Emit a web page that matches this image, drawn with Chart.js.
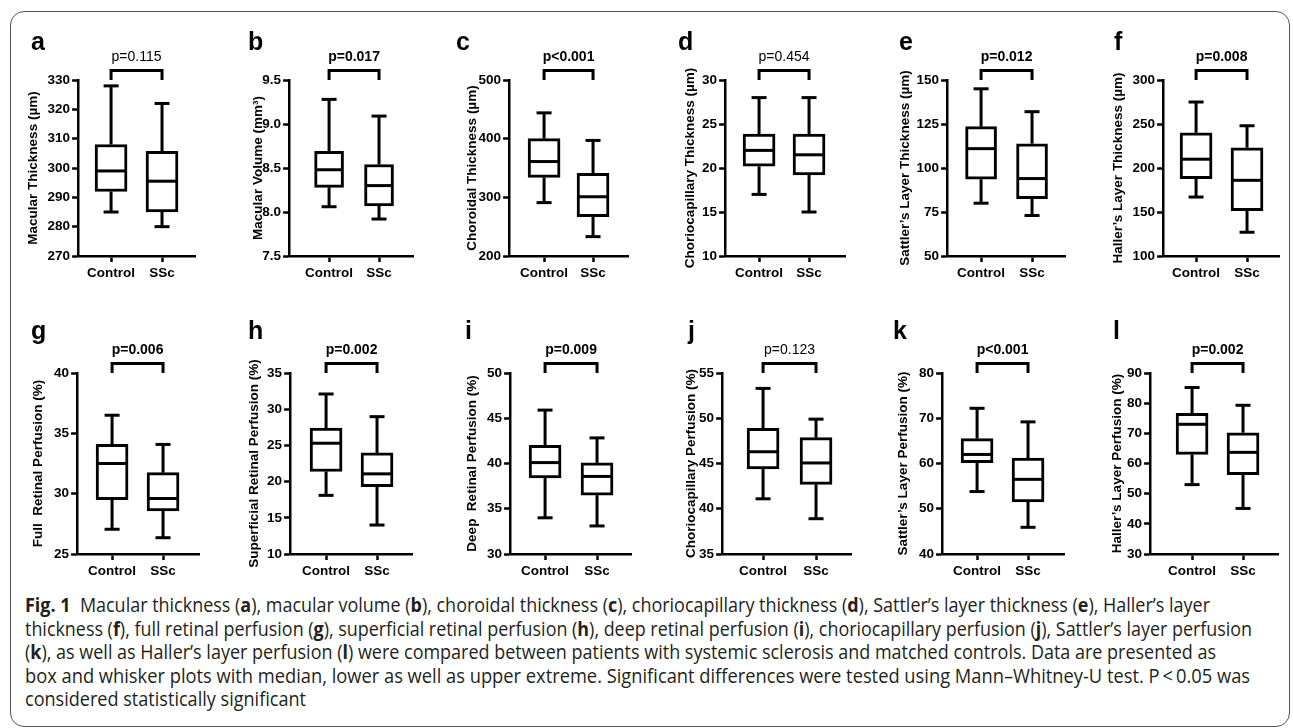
<!DOCTYPE html>
<html>
<head>
<meta charset="utf-8">
<script src="https://cdn.jsdelivr.net/npm/chart.js@4.4.0/dist/chart.umd.min.js"></script>
<style>
  html, body { margin: 0; padding: 0; background: #fff; }
  #page { position: relative; width: 1293px; height: 728px; overflow: hidden; }
  #frame { position: absolute; left: 10px; top: 11px; width: 1278px; height: 714px;
           border: 1.5px solid #555; border-radius: 14px; }
  canvas { position: absolute; }
  .letter { position: absolute; font: bold 25px "Liberation Sans", Arial, sans-serif;
            line-height: 25px; color: #000; }
  .cap { position: absolute; left: 25px; white-space: nowrap; color: #231f20;
         font-family: "Liberation Sans Narrow", "Open Sans", "DejaVu Sans Condensed", sans-serif;
         font-size: 20px; line-height: 23.5px; transform-origin: 0 50%; }
</style>
</head>
<body>
<div id="page">
  <div id="frame"></div>
  <div class="cap" id="cap0"><b>Fig. 1</b>&nbsp;&nbsp;Macular thickness (<b>a</b>), macular volume (<b>b</b>), choroidal thickness (<b>c</b>), choriocapillary thickness (<b>d</b>), Sattler’s layer thickness (<b>e</b>), Haller’s layer</div>
  <div class="cap" id="cap1">thickness (<b>f</b>), full retinal perfusion (<b>g</b>), superficial retinal perfusion (<b>h</b>), deep retinal perfusion (<b>i</b>), choriocapillary perfusion (<b>j</b>), Sattler’s layer perfusion</div>
  <div class="cap" id="cap2">(<b>k</b>), as well as Haller’s layer perfusion (<b>l</b>) were compared between patients with systemic sclerosis and matched controls. Data are presented as</div>
  <div class="cap" id="cap3">box and whisker plots with median, lower as well as upper extreme. Significant differences were tested using Mann–Whitney-U test. P&thinsp;&lt;&thinsp;0.05 was</div>
  <div class="cap" id="cap4">considered statistically significant</div>
</div>
<script>
// ---- data ----
const categories = ['Control', 'SSc'];
const panelLetters = ['a', 'b', 'c', 'd', 'e', 'f', 'g', 'h', 'i', 'j', 'k', 'l'];
const yTitles = [
  'Macular Thickness (µm)', 'Macular Volume (mm³)', 'Choroidal Thickness (µm)',
  'Choriocapillary Thickness (µm)', 'Sattler’s Layer Thickness (µm)', 'Haller’s Layer Thickness (µm)',
  'Full  Retinal Perfusion (%)', 'Superficial Retinal Perfusion (%)', 'Deep  Retinal Perfusion (%)',
  'Choriocapillary Perfusion (%)', 'Sattler’s Layer Perfusion (%)', 'Haller’s Layer Perfusion (%)'
];
const pValues = ['p=0.115', 'p=0.017', 'p<0.001', 'p=0.454', 'p=0.012', 'p=0.008',
                 'p=0.006', 'p=0.002', 'p=0.009', 'p=0.123', 'p<0.001', 'p=0.002'];
const significant = [false, true, true, false, true, true, true, true, true, false, true, true];

// y tick values per panel
const yTicks = [
  [270, 280, 290, 300, 310, 320, 330],
  [7.5, 8.0, 8.5, 9.0, 9.5],
  [200, 300, 400, 500],
  [10, 15, 20, 25, 30],
  [50, 75, 100, 125, 150],
  [100, 150, 200, 250, 300],
  [25, 30, 35, 40],
  [10, 15, 20, 25, 30, 35],
  [30, 35, 40, 45, 50],
  [35, 40, 45, 50, 55],
  [40, 50, 60, 70, 80],
  [30, 40, 50, 60, 70, 80, 90]
];

// [min, q1, median, q3, max]
const controlStats = [
  [285, 292, 299, 308, 328],
  [8.06, 8.28, 8.48, 8.69, 9.28],
  [291, 334, 361, 400, 444],
  [17, 20.2, 22, 23.85, 28],
  [80, 93.6, 111, 123.5, 145],
  [167, 188, 210, 240, 275],
  [27.05, 29.5, 32.5, 34.08, 36.5],
  [18.1, 21.4, 25.3, 27.4, 32.1],
  [34, 38.4, 40.1, 42, 45.9],
  [41.1, 44.4, 46.3, 48.9, 53.3],
  [53.8, 60.2, 62, 65.5, 72.2],
  [53, 63, 73, 76.6, 85.2]
];
const sscStats = [
  [280, 285, 295.5, 305.7, 322],
  [7.92, 8.07, 8.3, 8.54, 9.09],
  [233, 267, 301, 341, 397],
  [15, 19.2, 21.5, 23.85, 28],
  [73, 82.6, 94, 113.8, 132],
  [127, 151.6, 186, 223, 248],
  [26.35, 28.57, 29.6, 31.74, 34.08],
  [14, 19.3, 21.07, 23.96, 28.97],
  [33.1, 36.5, 38.57, 40.07, 42.83],
  [38.9, 42.7, 45.06, 47.86, 49.9],
  [45.9, 51.5, 56.5, 61.2, 69.2],
  [45.1, 56.3, 63.7, 70.2, 79.3]
];

// ---- layout (pixels) ----
// [axisX, controlX, sscX, axisEnd, titleOffset, letterX, boxWidth]
const panelLayout = [
  [78, 111, 162, 195, 45, 31, 32],
  [289, 329, 379, 413, 31, 248, 29],
  [509, 544, 593, 628, 37, 456, 32],
  [725, 759, 809, 845, 35, 678, 32],
  [947, 981, 1032, 1065, 42, 899, 31],
  [1163, 1196, 1247, 1279, 45, 1114, 32],
  [77, 112, 163, 199, 39, 31, 32],
  [290, 326, 377, 412, 36, 248, 32],
  [510, 545, 597, 631, 38, 465, 32],
  [722, 763, 816, 851, 31, 688, 32],
  [942, 977, 1028, 1064, 39, 893, 32],
  [1150, 1192, 1243, 1278, 33, 1113, 32]
];
const rowTop = [80, 373];
const rowBottom = [256, 554];
const letterTop = [29, 318];
const capCenters = [605, 628.5, 652, 675.5, 699];
const capEnds = [1210, 1252, 1216, 1250, 306];

Chart.defaults.font.family = '"Liberation Sans", Arial, sans-serif';
Chart.defaults.color = '#000';

const PAD_TOP = 40, X_H = 32, PAD_RIGHT = 4;
const axisFont = { family: '"Liberation Sans", Arial, sans-serif', weight: 'bold', size: 13.5 };

// whiskers, medians, bracket and p value, all placed through the chart scales
const boxWhiskers = {
  id: 'boxWhiskers',
  afterDatasetsDraw(chart, args, opts) {
    const { ctx, chartArea, scales: { x, y } } = chart;
    const meta = chart.getDatasetMeta(0);
    ctx.save();
    ctx.strokeStyle = '#000';
    ctx.lineWidth = 3;
    ctx.lineCap = 'butt';
    const seg = (x1, y1, x2, y2) => {
      ctx.beginPath(); ctx.moveTo(x1, y1); ctx.lineTo(x2, y2); ctx.stroke();
    };
    opts.stats.forEach((s, i) => {
      const cx = x.getPixelForValue(i);
      const half = meta.data[i].width / 2;
      const cap = 7.5;
      const [pMin, pQ1, pMed, pQ3, pMax] = s.map(v => y.getPixelForValue(v));
      seg(cx, pQ1, cx, pMin);
      seg(cx - cap, pMin, cx + cap, pMin);
      seg(cx, pQ3, cx, pMax);
      seg(cx - cap, pMax, cx + cap, pMax);
      seg(cx - half + 1, pMed, cx + half - 1, pMed);
    });
    // significance bracket
    const x0 = x.getPixelForValue(0), x1 = x.getPixelForValue(1);
    const top = chartArea.top - 9.5;
    ctx.beginPath();
    ctx.moveTo(x0, chartArea.top);
    ctx.lineTo(x0, top);
    ctx.lineTo(x1, top);
    ctx.lineTo(x1, chartArea.top);
    ctx.stroke();
    ctx.fillStyle = '#000';
    ctx.font = (opts.bold ? 'bold ' : '') + '14px "Liberation Sans", Arial, sans-serif';
    ctx.textAlign = 'center';
    ctx.textBaseline = 'middle';
    ctx.fillText(opts.pText, (x0 + x1) / 2, chartArea.top - 23);
    ctx.restore();
  }
};

const page = document.getElementById('page');

panelLetters.forEach((letter, k) => {
  const row = k < 6 ? 0 : 1;
  const [axisX, ctrlX, sscX, axisEnd, titleOffset, letterX, boxW] = panelLayout[k];
  const unit = sscX - ctrlX;
  const xMin = -(ctrlX - axisX) / unit;
  const xMax = 1 + (axisEnd - sscX) / unit;
  const yW = titleOffset + 8.1;
  const plotH = rowBottom[row] - rowTop[row];

  const canvas = document.createElement('canvas');
  canvas.width = Math.round(yW + (axisEnd - axisX) + PAD_RIGHT);
  canvas.height = PAD_TOP + plotH + X_H;
  canvas.style.left = (axisX - yW) + 'px';
  canvas.style.top = (rowTop[row] - PAD_TOP) + 'px';
  page.appendChild(canvas);

  const lab = document.createElement('div');
  lab.className = 'letter';
  lab.textContent = letter;
  lab.style.left = letterX + 'px';
  lab.style.top = letterTop[row] + 'px';
  page.appendChild(lab);

  const ticks = yTicks[k];
  const decimals = ticks.some(v => !Number.isInteger(v)) ? 1 : 0;

  new Chart(canvas, {
    type: 'bar',
    data: {
      datasets: [{
        data: [
          { x: 0, y: [controlStats[k][1], controlStats[k][3]] },
          { x: 1, y: [sscStats[k][1], sscStats[k][3]] }
        ],
        backgroundColor: '#fff',
        borderColor: '#000',
        borderWidth: 3,
        borderSkipped: false,
        barThickness: boxW
      }]
    },
    options: {
      responsive: false,
      animation: false,
      devicePixelRatio: 1,
      layout: { padding: { top: PAD_TOP, right: PAD_RIGHT, bottom: 0, left: 0 } },
      plugins: {
        legend: { display: false },
        tooltip: { enabled: false },
        boxWhiskers: {
          stats: [controlStats[k], sscStats[k]],
          pText: pValues[k],
          bold: significant[k]
        }
      },
      scales: {
        x: {
          type: 'linear',
          offset: false,
          min: xMin,
          max: xMax,
          afterBuildTicks: s => { s.ticks = [{ value: 0 }, { value: 1 }]; },
          afterFit: s => { s.height = X_H; },
          ticks: {
            callback: v => categories[v],
            font: axisFont,
            color: '#000',
            padding: 3,
            maxRotation: 0,
            autoSkip: false
          },
          grid: { offset: false, drawOnChartArea: false, drawTicks: true, tickLength: 6, tickWidth: 2.5, tickColor: '#000' },
          border: { display: true, color: '#000', width: 2.5 }
        },
        y: {
          min: ticks[0],
          max: ticks[ticks.length - 1],
          afterBuildTicks: s => { s.ticks = ticks.map(v => ({ value: v })); },
          afterFit: s => { s.width = yW; },
          ticks: {
            callback: v => v.toFixed(decimals),
            font: axisFont,
            color: '#000',
            padding: 2
          },
          grid: { drawOnChartArea: false, drawTicks: true, tickLength: 6, tickWidth: 2.5, tickColor: '#000' },
          border: { display: true, color: '#000', width: 2.5 },
          title: {
            display: true,
            text: yTitles[k],
            font: axisFont,
            color: '#000',
            padding: 0
          }
        }
      }
    },
    plugins: [boxWhiskers]
  });
});

// fit caption lines to the widths of the printed figure caption
capCenters.forEach((cy, i) => {
  const el = document.getElementById('cap' + i);
  el.style.top = (cy - 23.5 / 2) + 'px';
  const w = el.getBoundingClientRect().width;
  const target = capEnds[i] - 25;
  el.style.transform = 'scaleX(' + (target / w).toFixed(4) + ')';
});
</script>
</body>
</html>
